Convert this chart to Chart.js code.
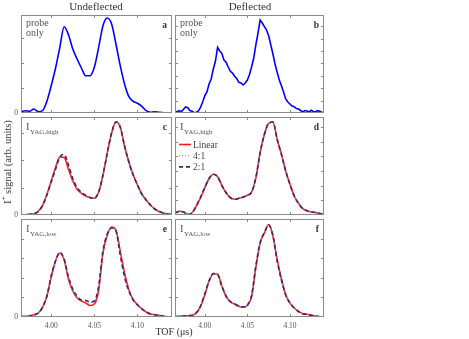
<!DOCTYPE html>
<html>
<head>
<meta charset="utf-8">
<script src="https://cdn.jsdelivr.net/npm/chart.js@4.4.1/dist/chart.umd.min.js"></script>
<style>
body{margin:0;background:#fff;}
#wrap{position:relative;width:469px;height:339px;overflow:hidden;font-family:"Liberation Serif","Times New Roman",serif;color:#333;}
#wrap canvas{position:absolute;left:0;top:0;}
.txt{position:absolute;white-space:nowrap;line-height:1;}
</style>
</head>
<body>
<div id="wrap">
  <canvas id="pa" width="469" height="339"></canvas>
  <canvas id="pb" width="469" height="339"></canvas>
  <canvas id="pc" width="469" height="339"></canvas>
  <canvas id="pd" width="469" height="339"></canvas>
  <canvas id="pe" width="469" height="339"></canvas>
  <canvas id="pf" width="469" height="339"></canvas>
  <div class="txt" style="left:96px;top:1px;font-size:11px;transform:translateX(-50%);">Undeflected</div>
  <div class="txt" style="left:250px;top:1px;font-size:11px;transform:translateX(-50%);">Deflected</div>
  <div class="txt" style="left:7px;top:162px;font-size:10.5px;transform:translate(-50%,-50%) rotate(-90deg);">I<sup style="font-size:7px;">+</sup> signal (arb. units)</div>
  <div class="txt" style="left:174px;top:327px;font-size:10px;transform:translateX(-50%);">TOF (μs)</div>
</div>
<script>
// time of flight (us)
const tof = [3.965,3.970,3.975,3.980,3.985,3.990,3.995,4.000,4.005,4.010,4.015,4.020,4.025,4.030,4.035,4.040,4.045,4.050,
  4.055,4.060,4.065,4.070,4.075,4.080,4.085,4.090,4.095,4.100,4.105,4.110,4.115,4.120,4.125,4.130,4.135,4.140];
const tofFine = [3.965,3.9675,3.970,3.9725,3.975,3.9775,3.980,3.9825,3.985,3.9875,3.990,3.9925,3.995,3.9975,
  4.000,4.0025,4.005,4.0075,4.010,4.0125,4.015,4.0175,4.020,4.0225,4.025,4.0275,4.030,4.0325,4.035,4.0375,
  4.040,4.0425,4.045,4.0475,4.050,4.0525,4.055,4.0575,4.060,4.0625,4.065,4.0675,4.070,4.0725,4.075,4.0775,
  4.080,4.0825,4.085,4.0875,4.090,4.0925,4.095,4.0975,4.100,4.1025,4.105,4.1075,4.110,4.1125,4.115,4.1175,
  4.120,4.1225,4.125,4.1275,4.130,4.1325,4.135,4.1375,4.140];

// probe only
const probeUndefl = [1.3,2.3,1.7,4.0,1.3,2.3,11.7,27.3,44.7,65.7,86.3,78.3,64,54,45,37.3,37.3,45.7,
  65.7,87.3,95,89,69,47.3,29,16.3,11.7,9.7,6.7,2.3,0.7,1.3,0.7,0.3,0.3,0.3];
const probeDefl = [0.7,1.5,2.3,1.2,3.7,6,5.3,2.5,1.7,0.3,0.7,2,5.7,11,17.3,21,29,34,44,52,65.7,62,59.7,53,
  50.7,46,41.7,40,36.7,34.5,30.7,30,28,30,33,38.5,46.3,55,68.3,80,93,90,86.3,83,77.3,68,59,49,40.7,33,
  27.3,21,14,11,9,7,6.3,4.5,4,2.5,1,2.5,2,1,2.7,1.5,1.3,2.3,1.7,0.7,0.3];

// I_YAG,high
const highUndeflLinear = [0.3,0.3,0.7,1.3,3.7,9.7,20.7,34,47.3,58,57.5,45.7,34,25.7,21.7,19,17.3,16.7,
  23,40,62,82,93,88,69,53,40,30,21,15,10,6,3.5,2,1,0.5];
const highUndefl41 = [0.3,0.3,0.7,1.3,3.6,9.6,20.3,33.5,46,58,60,49,35.5,26.8,22.3,19.3,17.4,16.7,
  23,40,62,82,93,88,69,53,40,30,21,15,10,6,3.5,2,1,0.5];
const highUndefl21 = [0.3,0.3,0.7,1.3,3.5,9.5,20,33,45.5,58,60.5,50,36.5,27.5,22.8,19.5,17.5,16.7,
  23,40,62,82,93,88,69,53,40,30,21,15,10,6,3.5,2,1,0.5];
const highDeflLinear = [2.3,3.7,3,0.7,2.3,9,17.3,27.3,36.3,40.7,38.3,29.7,22.3,17.3,15.7,16.7,18,19.7,
  23,37.3,62.3,80.7,91.7,93,75.7,60.7,44,30.7,19,11.7,6.3,4.3,3,2.5,1.5,0.5];
const highDefl41 = [2.5,3.5,2.5,1,2.5,9.3,17.3,27.3,36.3,40.7,38.3,29.7,22.3,17.3,15.7,16.7,18,19.7,
  23,37.3,62.3,80.7,91.7,93,75.7,60.7,44,30.7,19,11.7,6.3,4.6,3.3,2.2,1.5,0.5];
const highDefl21 = [2,3.3,3.2,0.5,2,9,17.5,27.5,36.5,40.7,38.5,29.7,22.3,17.3,15.7,16.7,18,19.7,
  23,37.3,62.3,80.7,91.7,93,75.7,60.7,44,30.7,19,11.7,6.3,4.3,3,2.5,1.5,0.5];

// I_YAG,low
const lowUndeflLinear = [0.3,0.7,1,2.3,4,9.7,20.7,40,56,64,57,38,26,19,16,14,11.5,13,
  27,64,82,90,87,65.7,44,27.3,17.3,12.3,8.3,5,3,2.3,1.7,0.7,0.3,0.3];
const lowUndefl41 = [0.3,0.6,1,2.1,4,9.8,20.8,40.5,56,64.3,57.5,39,27,20,16.5,15.5,14,15,
  30,65,82.5,89.5,86.5,63,42,26.5,17,12.2,8.2,5,3,2.3,1.7,0.7,0.3,0.3];
const lowUndefl21 = [0.3,0.5,1,2,4,10,21,41,56,64.5,58,40,28,21,17,16.5,15,16,
  31,66,83,89,86,62,40,26,17,12,8,5,3,2.3,1.7,0.7,0.3,0.3];
const lowDeflLinear = [0.3,0.7,1,1.3,1.7,4,10.7,22.3,35.7,43,43,30.7,20.7,15,13,10.7,9.7,11.7,
  20.7,50,74,84,92.5,81,57.3,38,22.3,14,9,5.7,3.3,2.7,1.7,1,0.3,0.3];
const lowDefl41 = [0.3,0.6,1,1.3,1.6,4.1,10.8,22.6,35.8,43.2,42.8,30.8,20.8,15.2,13,10.8,9.8,11.8,
  21,50.5,74.2,84.2,92,82,56.7,37.2,22.2,14,9,5.6,3.3,2.7,1.7,1,0.3,0.3];
const lowDefl21 = [0.3,0.5,1,1.3,1.5,4.3,11,23,36,43.5,42.5,31,21,15.5,13,11,10,12,
  21.5,51,74.5,84.5,92,81.5,56,37,22,14,9,5.5,3.3,2.7,1.7,1,0.3,0.3];

// ticks
const xTicks = [4.00, 4.05, 4.10];
const xTickLabels = ['4.00', '4.05', '4.10'];
const yTicksA = [25, 50, 75];
const yTicksB = [12.4, 24.8, 37.2, 49.6, 62, 74.4, 86.8];
const yTicksC = [27.3, 54.6, 81.9];
const yTicksD = [14.7, 29.4, 44.1, 58.8, 73.5, 88.2];
const yTicksE = [19.6, 39.2, 58.8, 78.4];
const yTicksF = [19.6, 39.2, 58.8, 78.4];

const cols = [{l:21, r:172}, {l:175, r:324}];
const rows = [{t:15, b:113}, {t:117, b:215}, {t:219, b:317}];

const serif = '"Liberation Serif", "Times New Roman", serif';

const panelDecor = {
  id: 'panel',
  afterDatasetsDraw(chart, args, o) {
    const ctx = chart.ctx;
    const a = chart.chartArea;
    const x = chart.scales.x, y = chart.scales.y;
    ctx.save();
    ctx.strokeStyle = '#8a8a8a';
    ctx.lineWidth = 1;
    ctx.strokeRect(a.left + 0.5, a.top + 0.5, a.width - 1, a.height - 1);
    ctx.beginPath();
    xTicks.forEach(v => {
      const px = Math.round(x.getPixelForValue(v)) + 0.5;
      ctx.moveTo(px, a.bottom); ctx.lineTo(px, a.bottom - 3);
      ctx.moveTo(px, a.top); ctx.lineTo(px, a.top + 3);
    });
    o.yTicks.forEach(v => {
      const py = Math.round(y.getPixelForValue(v)) + 0.5;
      ctx.moveTo(a.left, py); ctx.lineTo(a.left + 3, py);
      ctx.moveTo(a.right, py); ctx.lineTo(a.right - 3, py);
    });
    ctx.stroke();

    ctx.fillStyle = '#555';
    if (o.zero) {
      ctx.font = '7.5px ' + serif;
      ctx.textAlign = 'right';
      ctx.textBaseline = 'middle';
      ctx.fillText('0', a.left - 3, y.getPixelForValue(0));
    }
    if (o.xLabels) {
      ctx.font = '7.5px ' + serif;
      ctx.textAlign = 'center';
      ctx.textBaseline = 'middle';
      xTicks.forEach((v, i) => ctx.fillText(xTickLabels[i], x.getPixelForValue(v), a.bottom + 9));
    }
    // panel letter
    ctx.fillStyle = '#333';
    ctx.font = 'bold 9.5px ' + serif;
    ctx.textAlign = 'right';
    ctx.textBaseline = 'alphabetic';
    ctx.fillText(o.letter, a.right - 5, a.top + 13);

    ctx.textAlign = 'left';
    ctx.fillStyle = '#555';
    if (o.note) {
      ctx.font = '10px ' + serif;
      ctx.fillText(o.note[0], a.left + 5, a.top + 11);
      ctx.fillText(o.note[1], a.left + 5, a.top + 21);
    }
    if (o.sub) {
      ctx.font = '10.5px ' + serif;
      ctx.fillText('I', a.left + 5, a.top + 13);
      ctx.font = '7px ' + serif;
      ctx.fillText(o.sub, a.left + 9, a.top + 17);
    }
    if (o.legend) {
      const items = chart.data.datasets.slice().sort((p, q) => q.order - p.order);
      items.forEach((ds, i) => {
        const ly = a.top + 27.5 + i * 11.2;
        ctx.save();
        ctx.strokeStyle = ds.borderColor;
        ctx.lineWidth = ds.borderWidth;
        ctx.setLineDash(ds.borderDash || []);
        ctx.beginPath();
        ctx.moveTo(a.left + 4, ly); ctx.lineTo(a.left + 16, ly);
        ctx.stroke();
        ctx.restore();
        ctx.fillStyle = '#444';
        ctx.font = '9.5px ' + serif;
        ctx.textBaseline = 'middle';
        ctx.fillText(ds.label, a.left + 18, ly + 0.5);
      });
    }
    ctx.restore();
  }
};

function pts(xs, ys) {
  return xs.map((t, i) => ({x: t, y: ys[i]}));
}

function probeSet(xs, ys, smooth) {
  const ds = {label: 'probe', data: pts(xs, ys), borderColor: '#0000ff', borderWidth: 1.6,
    pointRadius: 0, tension: 0, order: 0};
  if (smooth) ds.cubicInterpolationMode = 'monotone';
  return [ds];
}

function yagSets(lin, r41, r21) {
  return [
    {label: 'Linear', data: pts(tof, lin), borderColor: '#ff1a1a', borderWidth: 1.6,
      pointRadius: 0, cubicInterpolationMode: 'monotone', order: 2},
    {label: '4:1', data: pts(tof, r41), borderColor: '#8c8cff', borderWidth: 1.2, borderDash: [1, 2],
      pointRadius: 0, cubicInterpolationMode: 'monotone', order: 1},
    {label: '2:1', data: pts(tof, r21), borderColor: '#3b2b68', borderWidth: 1.6, borderDash: [4, 3],
      pointRadius: 0, cubicInterpolationMode: 'monotone', order: 0}
  ];
}

function makePanel(id, col, row, datasets, deco) {
  const c = cols[col], r = rows[row];
  new Chart(document.getElementById(id), {
    type: 'line',
    data: {datasets: datasets},
    options: {
      responsive: false,
      animation: false,
      events: [],
      devicePixelRatio: 1,
      layout: {padding: {left: c.l, right: 469 - c.r, top: r.t, bottom: 339 - r.b}},
      scales: {
        x: {type: 'linear', min: 3.965, max: 4.140, display: false},
        y: {min: 0, max: 98, display: false}
      },
      plugins: {legend: {display: false}, tooltip: {enabled: false}, panel: deco}
    },
    plugins: [panelDecor]
  });
}

makePanel('pa', 0, 0, probeSet(tof, probeUndefl, true), {letter: 'a', note: ['probe', 'only'], yTicks: yTicksA, zero: true});
makePanel('pb', 1, 0, probeSet(tofFine, probeDefl, false), {letter: 'b', note: ['probe', 'only'], yTicks: yTicksB});
makePanel('pc', 0, 1, yagSets(highUndeflLinear, highUndefl41, highUndefl21), {letter: 'c', sub: 'YAG,high', yTicks: yTicksC, zero: true});
makePanel('pd', 1, 1, yagSets(highDeflLinear, highDefl41, highDefl21), {letter: 'd', sub: 'YAG,high', yTicks: yTicksD, legend: true});
makePanel('pe', 0, 2, yagSets(lowUndeflLinear, lowUndefl41, lowUndefl21), {letter: 'e', sub: 'YAG,low', yTicks: yTicksE, zero: true, xLabels: true});
makePanel('pf', 1, 2, yagSets(lowDeflLinear, lowDefl41, lowDefl21), {letter: 'f', sub: 'YAG,low', yTicks: yTicksF, xLabels: true});
</script>
</body>
</html>
